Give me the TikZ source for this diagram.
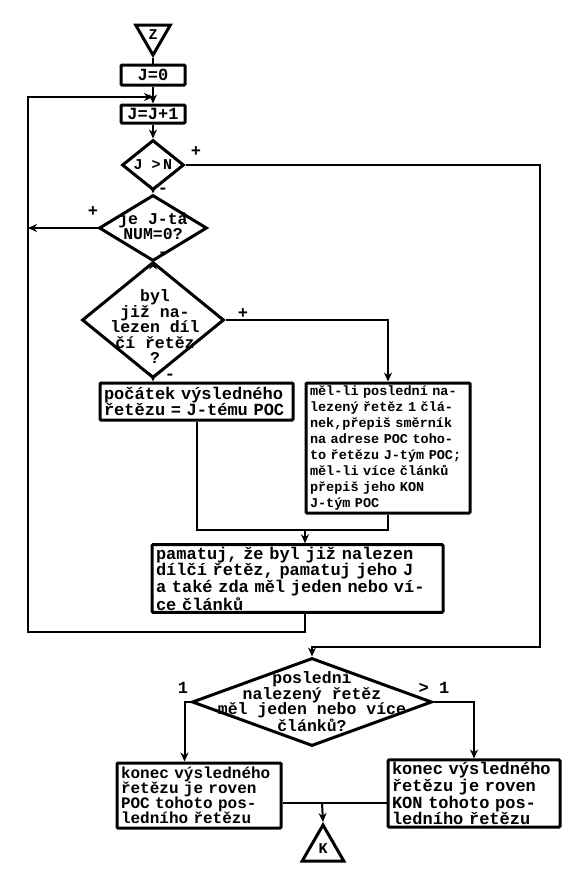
\documentclass[tikz,border=0pt]{standalone}
\usepackage{fontspec}
\newfontfamily\typew{Liberation Mono}
\usetikzlibrary{shapes.geometric,arrows.meta,positioning,calc}
\tikzset{
  blok/.style={draw, line width=3pt, rounded corners=1pt, align=left, inner xsep=4pt, inner ysep=2pt, font=\typew\bfseries\fontsize{17}{15}\selectfont},
  rozh/.style={draw, diamond, line width=3pt, inner sep=0pt},
  txt/.style={align=center, inner sep=0pt, font=\typew\bfseries\fontsize{16.5}{15.5}\selectfont},
  znak/.style={inner sep=1pt, font=\typew\bfseries\fontsize{17}{17}\selectfont},
  term/.style={draw, regular polygon, regular polygon sides=3, line width=3pt, inner sep=0pt, font=\typew\bfseries\fontsize{15}{15}\selectfont},
  spoj/.style={line width=2pt},
  sip/.style={spoj, -{Stealth[length=9pt,width=8pt]}},
}
\begin{document}
\begin{tikzpicture}[x=1pt, y=-1pt]
    \useasboundingbox (0,0) rectangle (569,879);
    % start a inicializace
    \node[term, minimum size=40pt, shape border rotate=180] (tZ) at (153,35) {Z};
    \node[blok, minimum width=64pt, minimum height=20pt, align=center] (bJ0) at (153,75) {J=0};
    \node[blok, minimum width=64pt, minimum height=18pt, align=center] (bJJ) at (153,114) {J=J+1};
    % rozhodovani
    \node[rozh, minimum width=62pt, minimum height=50pt] (dJN) at (153,165) {};
    \node[txt, font=\typew\bfseries\fontsize{15}{15}\selectfont] (tJN) at (dJN) {J >\,N};
    \node[rozh, minimum width=108pt, minimum height=66pt] (dNUM) at (153,228) {};
    \node[txt] (tNUM) at (153,226) {je J-tá\\NUM=0?};
    \node[rozh, minimum width=142pt, minimum height=116pt] (dByl) at (153,320) {};
    \node[txt] (tByl) at (155,327) {byl\\již na-\\lezen díl\\čí řetěz\\?};
    % bloky
    \node[blok, text width=185pt, minimum height=37pt] (bPoc) at (196.5,401.5) {počátek výsledného\\řetězu = J-tému POC};
    \node[blok, text width=156pt, minimum height=130pt, font=\typew\bfseries\fontsize{13.5}{16}\selectfont] (bMel) at (388,448)
        {měl-li poslední na-\\lezený řetěz 1 člá-\\nek,přepiš směrník\\na adrese POC toho-\\to řetězu J-tým POC;\\měl-li více článků\\přepiš jeho KON\\J-tým POC};
    \node[blok, text width=283pt, minimum height=67pt] (bPam) at (297.5,578.5)
        {pamatuj, že byl již nalezen\\dílčí řetěz, pamatuj jeho J\\a také zda měl jeden nebo ví-\\ce článků};
    \node[rozh, minimum width=240pt, minimum height=88pt] (dPosl) at (312,702) {};
    \node[txt] (tPosl) at (dPosl) {poslední\\nalezený řetěz\\měl jeden nebo více\\článků?};
    \node[blok, text width=156pt, minimum height=65pt, font=\typew\bfseries\fontsize{16}{15}\selectfont] (bKonL) at (199,795.5)
        {konec výsledného\\řetězu je roven\\POC tohoto pos-\\ledního řetězu};
    \node[blok, text width=164pt, minimum height=63pt] (bKonR) at (474,793.5)
        {konec výsledného\\řetězu je roven\\KON tohoto pos-\\ledního řetězu};
    \node[term, minimum size=48pt] (tK) at (323,849) {K};
    % pomocne body
    \coordinate (jTop) at (153,97);
    \coordinate (lTop) at (28,97);
    \coordinate (lBot) at (28,632);
    \coordinate (jMid) at (305,530);
    \coordinate (rR) at (540,647);
    \coordinate (jK) at (322,803);
    % spoje
    \draw[spoj] (tZ.corner 1) -- (bJ0.north);
    \draw[sip] (bJ0.south) -- (bJJ.north);
    \draw[sip] (bJJ.south) -- (dJN.north);
    \draw[sip] (dJN.south) -- (dNUM.north);
    \draw[sip] (dNUM.south) -- (dByl.north);
    \draw[sip] (dByl.south) -- (dByl.south |- bPoc.north);
    \draw[sip] (dByl.east) -| (bMel.north);
    \draw[spoj] (bPoc.south) |- (jMid);
    \draw[spoj] (bMel.south) |- (jMid);
    \draw[sip] (jMid) -- (jMid |- bPam.north);
    \draw[sip] (jMid |- bPam.south) |- (lBot) -- (lTop) -- (jTop);
    \draw[sip] (dNUM.west) -- (lTop |- dNUM.west);
    \draw[sip] (dJN.east) -| (rR) -| (dPosl.north);
    \draw[sip] (dPosl.west) -- ++(-6,0) coordinate (kL) -- (kL |- bKonL.north);
    \draw[sip] (dPosl.east) -| (bKonR.north);
    \draw[spoj] (bKonL.east |- jK) -- (jK);
    \draw[spoj] (bKonR.west |- jK) -- (jK);
    \draw[sip] (jK) -- (tK.corner 1);
    % znamenka
    \node[znak] (pJN) at (196,152) {+};
    \node[znak] (mJN) at (163,191) {-};
    \node[znak] (pNUM) at (93,212) {+};
    \node[znak] (mNUM) at (163,255) {-};
    \node[znak] (pByl) at (243,314) {+};
    \node[znak] (mByl) at (170,377) {-};
    \node[znak] (jedna) at (183,688) {1};
    \node[znak] (vice) at (434,688) {> 1};
\end{tikzpicture}
\end{document}
